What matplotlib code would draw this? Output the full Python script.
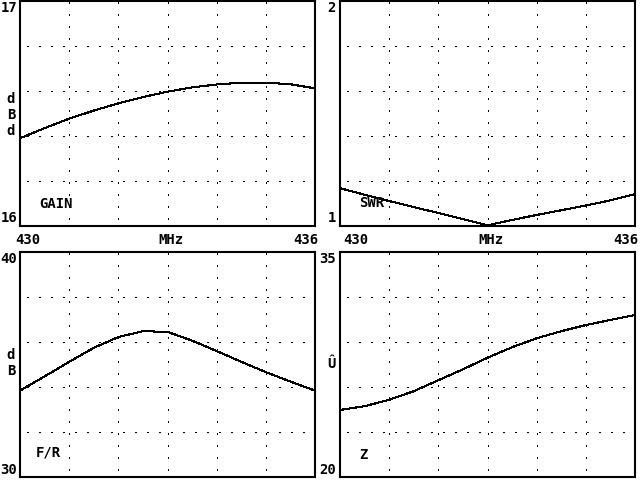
import matplotlib
matplotlib.use("Agg")
import matplotlib.pyplot as plt

# ================= DATA =================
freq = [430.0, 430.5, 431.0, 431.5, 432.0, 432.5, 433.0,
        433.5, 434.0, 434.5, 435.0, 435.5, 436.0]

gain_dbd = [16.39, 16.435, 16.477, 16.513, 16.545, 16.573, 16.597,
            16.616, 16.629, 16.637, 16.637, 16.630, 16.612]

swr = [1.168, 1.139, 1.111, 1.084, 1.058, 1.031, 1.003,
       1.027, 1.049, 1.070, 1.091, 1.114, 1.142]

f_r = [33.84, 34.47, 35.12, 35.74, 36.22, 36.48, 36.45,
       36.06, 35.60, 35.12, 34.66, 34.24, 33.84]

z_ohm = [24.47, 24.72, 25.15, 25.72, 26.45, 27.18, 27.95,
         28.65, 29.25, 29.72, 30.13, 30.47, 30.80]

W, H = 640, 480
FONT = dict(family="DejaVu Sans Mono", weight="bold", size=10, color="black")


def px_axes(fig, left, top, right, bottom):
    # axes placed by pixel box
    return fig.add_axes([left / W, 1 - bottom / H, (right - left) / W, (bottom - top) / H])


def txt(fig, x, y, s, ha="left", va="center"):
    fig.text(x / W, 1 - y / H, s, ha=ha, va=va, **FONT)


def panel(fig, box, x, y, ylim, ny):
    ax = px_axes(fig, *box)
    ax.plot(x, y, color="black", lw=0.75, antialiased=False)
    ax.set_xlim(430, 436)
    ax.set_ylim(*ylim)
    ax.set_xticks([430 + i for i in range(1, 6)])
    step = (ylim[1] - ylim[0]) / ny
    ax.set_yticks([ylim[0] + step * i for i in range(1, ny)])
    ax.tick_params(length=0, labelbottom=False, labelleft=False)
    ax.grid(True, color="black", linestyle=(5, (1, 10)), lw=0.75, antialiased=False)
    for sp in ax.spines.values():
        sp.set_linewidth(1.5)
    return ax


fig = plt.figure(figsize=(6.4, 4.8), dpi=100)
fig.patch.set_facecolor("white")

panel(fig, (20, 1, 315, 226), freq, gain_dbd, (16, 17), 5)
panel(fig, (340, 1, 635, 226), freq, swr, (1, 2), 5)
panel(fig, (20, 252, 315, 477), freq, f_r, (30, 40), 5)
panel(fig, (340, 252, 635, 477), freq, z_ohm, (20, 35), 5)

# ---- GAIN ----
txt(fig, 17, 1, "17", ha="right", va="top")
txt(fig, 17, 225, "16", ha="right", va="bottom")
for s, yy in zip("dBd", [99, 115, 131]):
    txt(fig, 11, yy, s, ha="center")
txt(fig, 39, 204, "GAIN")
txt(fig, 15, 240, "430")
txt(fig, 171, 240, "MHz", ha="center")
txt(fig, 318, 240, "436", ha="right")

# ---- SWR ----
txt(fig, 336, 1, "2", ha="right", va="top")
txt(fig, 336, 225, "1", ha="right", va="bottom")
txt(fig, 359, 203, "SWR")
txt(fig, 343, 240, "430")
txt(fig, 491, 240, "MHz", ha="center")
txt(fig, 638, 240, "436", ha="right")

# ---- F/R ----
txt(fig, 17, 252, "40", ha="right", va="top")
txt(fig, 17, 477, "30", ha="right", va="bottom")
for s, yy in zip("dB", [355, 371]):
    txt(fig, 11, yy, s, ha="center")
txt(fig, 36, 453, "F/R")

# ---- Z ----
txt(fig, 336, 252, "35", ha="right", va="top")
txt(fig, 336, 477, "20", ha="right", va="bottom")
txt(fig, 331, 364, "Û", ha="center")
txt(fig, 359, 455, "Z")

fig.savefig("out.png", dpi=100, facecolor="white")
